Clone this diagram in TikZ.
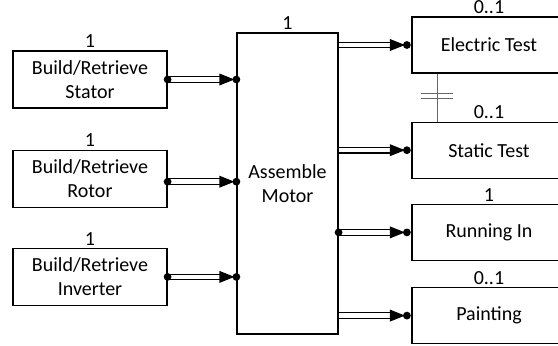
\documentclass[tikz,border=0pt]{standalone}
\usepackage{fontspec}
\setmainfont{Carlito}
\usetikzlibrary{positioning}
% filled head: triangle then dot, dot centred on #1
\newcommand{\headat}[1]{%
  \fill ([xshift=-17pt,yshift=6pt]#1) -- ([xshift=-2pt]#1)
        -- ([xshift=-17pt,yshift=-6pt]#1) -- cycle;
  \fill (#1) circle[radius=3.9pt];}

\begin{document}
\begin{tikzpicture}[x=1pt, y=-1pt,
      font=\fontsize{20}{24.4}\selectfont,
      box/.style={draw, line width=1.2pt, align=center, inner sep=2pt},
      srcbox/.style={box, minimum width=154pt, minimum height=57pt},
      tstbox/.style={box, minimum width=154pt, minimum height=56pt},
      lbl/.style={inner sep=2.5pt},
      flow/.style={double, double distance=4.5pt, line width=1.1pt},
      link/.style={draw=black!60, line width=1pt}
    ]
    \useasboundingbox (0,0) rectangle (558,346);
    \clip (0,0) rectangle (558,346);

    % build / retrieve
    \node[srcbox, label={[lbl]above:1}] (stator) at (90,79.5)
      {Build/Retrieve\\Stator};
    \node[srcbox, below=41pt of stator, label={[lbl]above:1}] (rotor)
      {Build/Retrieve\\Rotor};
    \node[srcbox, below=40pt of rotor, label={[lbl]above:1}] (inverter)
      {Build/Retrieve\\Inverter};

    % assembly
    \node[box, minimum width=101pt, minimum height=301pt,
          label={[lbl]above:1}] (motor) at (287.5,183.5) {Assemble\\Motor};

    % tests
    \node[tstbox, label={[lbl]above:0..1}] (etest) at (489,45) {Electric Test};
    \node[tstbox, below=48pt of etest, label={[lbl]above:0..1}] (stest)
      {Static Test};
    \node[tstbox, below=25pt of stest, label={[lbl]above:1}] (running)
      {Running In};
    \node[tstbox, below=26pt of running, label={[lbl]above:0..1}] (painting)
      {Painting};

    % head points
    \coordinate (inS) at (stator.east -| motor.west);
    \coordinate (outR) at ([yshift=-3pt]rotor.east);
    \coordinate (inR) at (outR -| motor.west);
    \coordinate (inI) at (inverter.east -| motor.west);
    \coordinate (toE) at ([xshift=-4.5pt]etest.west);
    \coordinate (toS) at ([xshift=-4.5pt]stest.west);
    \coordinate (toR) at ([xshift=-4.5pt]running.west);
    \coordinate (toP) at ([xshift=-4.5pt]painting.west);

    % flows in
    \draw[flow] (stator.east) -- ([xshift=-14pt]inS);
    \headat{inS}
    \fill (stator.east) circle[radius=3.9pt];
    \draw[flow] (outR) -- ([xshift=-14pt]inR);
    \headat{inR}
    \fill (outR) circle[radius=3.9pt];
    \draw[flow] (inverter.east) -- ([xshift=-14pt]inI);
    \headat{inI}
    \fill (inverter.east) circle[radius=3.9pt];

    % flows out
    \draw[flow] (etest.west -| motor.east) -- ([xshift=-14pt]toE);
    \headat{toE}
    \draw[flow] (stest.west -| motor.east) -- ([xshift=-14pt]toS);
    \headat{toS}
    \draw[flow] (running.west -| motor.east) -- ([xshift=-14pt]toR);
    \headat{toR}
    \fill (running.west -| motor.east) circle[radius=3.9pt];
    \draw[flow] (painting.west -| motor.east) -- ([xshift=-14pt]toP);
    \headat{toP}

    % exclusive link
    \draw[link] ([xshift=-52pt]etest.south) -- ([xshift=-52pt]stest.north)
      coordinate[midway] (eqm);
    \draw[link] ([xshift=-16pt,yshift=4pt]eqm) -- ([xshift=16pt,yshift=4pt]eqm);
    \draw[link] ([xshift=-16pt,yshift=-1pt]eqm) -- ([xshift=16pt,yshift=-1pt]eqm);
  \end{tikzpicture}
\end{document}
